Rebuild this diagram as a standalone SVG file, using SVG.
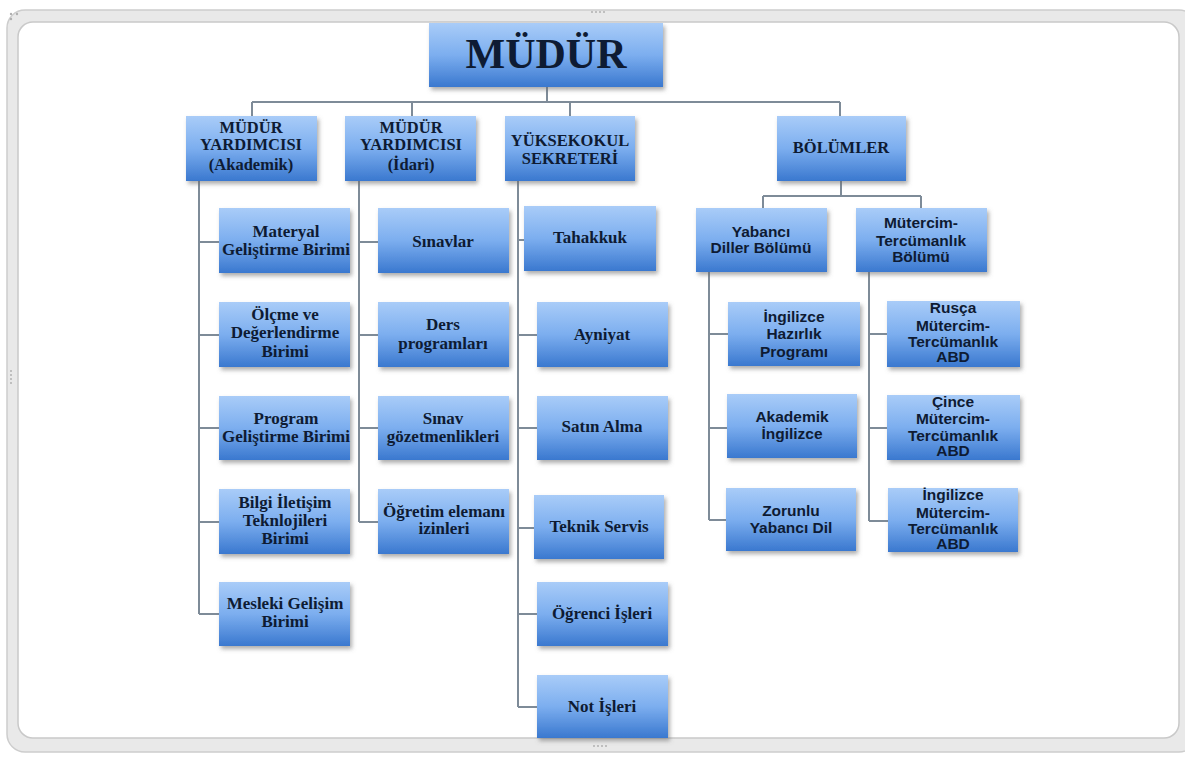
<svg xmlns="http://www.w3.org/2000/svg" width="1185" height="757" viewBox="0 0 1185 757">
<defs>
<linearGradient id="g" x1="0" y1="0" x2="0" y2="1">
<stop offset="0" stop-color="#a9ccf8"/>
<stop offset="0.5" stop-color="#7caeef"/>
<stop offset="1" stop-color="#3a78cf"/>
</linearGradient>
<filter id="sh" x="-10%" y="-10%" width="125%" height="130%">
<feDropShadow dx="2" dy="3" stdDeviation="2" flood-color="#6b6b6b" flood-opacity="0.55"/>
</filter>
<style>
.box{fill:url(#g);filter:url(#sh)}
.s{font-family:"Liberation Serif","DejaVu Serif",serif;font-weight:bold;fill:#0e1b33;text-anchor:middle;font-size:17px}
.h{font-family:"Liberation Serif","DejaVu Serif",serif;font-weight:bold;fill:#0e1b33;text-anchor:middle;font-size:16.5px}
.a{font-family:"Liberation Sans",Arial,sans-serif;font-weight:bold;fill:#0e1b33;text-anchor:middle;font-size:15.5px}
.big{font-family:"Liberation Serif","DejaVu Serif",serif;font-weight:bold;fill:#0e1b33;text-anchor:middle;font-size:42px}
.c{fill:none;stroke:#7e8b98;stroke-width:2}
.dot{fill:#b0b0b0}
</style>
</defs>
<g id="frame">
<rect x="7" y="10" width="1190" height="742" rx="18" fill="#e9e9e9" stroke="#cdcdcd" stroke-width="1.5"/>
<rect x="18" y="22" width="1161" height="716" rx="15" fill="#ffffff" stroke="#c9c9c9" stroke-width="1.5"/>
<circle class="dot" cx="11" cy="14" r="1.2"/><circle class="dot" cx="17" cy="14" r="1.2"/><circle class="dot" cx="11" cy="19" r="1.2"/>
<circle class="dot" cx="592" cy="12" r="1"/><circle class="dot" cx="596" cy="12" r="1"/><circle class="dot" cx="600" cy="12" r="1"/><circle class="dot" cx="604" cy="12" r="1"/>
<circle class="dot" cx="594" cy="746" r="1"/><circle class="dot" cx="598" cy="746" r="1"/><circle class="dot" cx="602" cy="746" r="1"/><circle class="dot" cx="606" cy="746" r="1"/>
<circle class="dot" cx="11" cy="371" r="1"/><circle class="dot" cx="11" cy="375" r="1"/><circle class="dot" cx="11" cy="379" r="1"/><circle class="dot" cx="11" cy="383" r="1"/>
</g>
<g id="connectors">
<path class="c" d="M547 87V102M252 102H840M252 102V116M412 102V116M570 102V116M840 102V116"/>
<path class="c" d="M199 181V614M199 242H219M199 335H219M199 428H219M199 522H219M199 614H219"/>
<path class="c" d="M359 181V522M359 242H378M359 335H378M359 428H378M359 522H378"/>
<path class="c" d="M518 181V707M518 240H524M518 335H537M518 428H537M518 528H534M518 614H537M518 707H537"/>
<path class="c" d="M841 181V196M763 196H921M763 196V208M921 196V208"/>
<path class="c" d="M709 272V520M709 334H728M709 428H727M709 520H726"/>
<path class="c" d="M869 272V521M869 334H887M869 428H887M869 521H888"/>
</g>
<g id="mudur"><rect class="box" x="429" y="23" width="234" height="64"/><text class="big" x="546" y="68">MÜDÜR</text></g>
<g id="akademik"><rect class="box" x="186" y="116" width="131" height="65"/><text class="h" x="251" y="133">MÜDÜR</text><text class="h" x="251" y="150">YARDIMCISI</text><text class="h" x="251" y="170">(Akademik)</text></g>
<g id="idari"><rect class="box" x="345" y="116" width="131" height="65"/><text class="h" x="411" y="133">MÜDÜR</text><text class="h" x="411" y="150">YARDIMCISI</text><text class="h" x="411" y="170">(İdari)</text></g>
<g id="yuksekokul"><rect class="box" x="505" y="116" width="130" height="65"/><text class="h" x="570" y="146">YÜKSEKOKUL</text><text class="h" x="570" y="164">SEKRETERİ</text></g>
<g id="bolumler"><rect class="box" x="777" y="116" width="129" height="65"/><text class="h" x="841" y="153">BÖLÜMLER</text></g>
<g id="materyal"><rect class="box" x="219" y="208" width="131" height="65"/><text class="s" x="286" y="237">Materyal</text><text class="s" x="286" y="255">Geliştirme Birimi</text></g>
<g id="olcme"><rect class="box" x="219" y="302" width="131" height="65"/><text class="s" x="285" y="320">Ölçme ve</text><text class="s" x="285" y="338">Değerlendirme</text><text class="s" x="285" y="357">Birimi</text></g>
<g id="program"><rect class="box" x="219" y="396" width="131" height="64"/><text class="s" x="286" y="424">Program</text><text class="s" x="286" y="442">Geliştirme Birimi</text></g>
<g id="bilgi"><rect class="box" x="219" y="489" width="131" height="65"/><text class="s" x="285" y="508">Bilgi İletişim</text><text class="s" x="285" y="526">Teknlojileri</text><text class="s" x="285" y="544">Birimi</text></g>
<g id="mesleki"><rect class="box" x="219" y="582" width="131" height="64"/><text class="s" x="285" y="609">Mesleki Gelişim</text><text class="s" x="285" y="627">Birimi</text></g>
<g id="sinavlar"><rect class="box" x="378" y="208" width="131" height="65"/><text class="s" x="443" y="247">Sınavlar</text></g>
<g id="ders"><rect class="box" x="378" y="302" width="131" height="65"/><text class="s" x="443" y="330">Ders</text><text class="s" x="443" y="349">programları</text></g>
<g id="gozetmen"><rect class="box" x="378" y="396" width="131" height="64"/><text class="s" x="443" y="424">Sınav</text><text class="s" x="443" y="442">gözetmenlikleri</text></g>
<g id="ogretim"><rect class="box" x="378" y="489" width="131" height="65"/><text class="s" x="444" y="517">Öğretim elemanı</text><text class="s" x="444" y="534">izinleri</text></g>
<g id="tahakkuk"><rect class="box" x="524" y="206" width="132" height="65"/><text class="s" x="590" y="243">Tahakkuk</text></g>
<g id="ayniyat"><rect class="box" x="537" y="302" width="131" height="65"/><text class="s" x="602" y="340">Ayniyat</text></g>
<g id="satinalma"><rect class="box" x="537" y="396" width="131" height="64"/><text class="s" x="602" y="432">Satın Alma</text></g>
<g id="teknik"><rect class="box" x="534" y="495" width="130" height="64"/><text class="s" x="599" y="532">Teknik Servis</text></g>
<g id="ogrenci"><rect class="box" x="537" y="582" width="131" height="64"/><text class="s" x="602" y="619">Öğrenci İşleri</text></g>
<g id="notisleri"><rect class="box" x="537" y="675" width="131" height="63"/><text class="s" x="602" y="712">Not İşleri</text></g>
<g id="yabanci"><rect class="box" x="696" y="208" width="131" height="64"/><text class="a" x="761" y="237">Yabancı</text><text class="a" x="761" y="253">Diller Bölümü</text></g>
<g id="mutercim"><rect class="box" x="856" y="208" width="131" height="64"/><text class="a" x="921" y="228">Mütercim-</text><text class="a" x="921" y="246">Tercümanlık</text><text class="a" x="921" y="262">Bölümü</text></g>
<g id="ingilizcehazirlik"><rect class="box" x="728" y="302" width="132" height="64"/><text class="a" x="794" y="322">İngilizce</text><text class="a" x="794" y="339">Hazırlık</text><text class="a" x="794" y="357">Programı</text></g>
<g id="akademikingilizce"><rect class="box" x="727" y="394" width="130" height="64"/><text class="a" x="792" y="422">Akademik</text><text class="a" x="792" y="439">İngilizce</text></g>
<g id="zorunlu"><rect class="box" x="726" y="488" width="130" height="63"/><text class="a" x="791" y="516">Zorunlu</text><text class="a" x="791" y="533">Yabancı Dil</text></g>
<g id="rusca"><rect class="box" x="887" y="301" width="133" height="66"/><text class="a" x="953" y="313">Rusça</text><text class="a" x="953" y="331">Mütercim-</text><text class="a" x="953" y="347">Tercümanlık</text><text class="a" x="953" y="362">ABD</text></g>
<g id="cince"><rect class="box" x="887" y="395" width="133" height="65"/><text class="a" x="953" y="407">Çince</text><text class="a" x="953" y="424">Mütercim-</text><text class="a" x="953" y="441">Tercümanlık</text><text class="a" x="953" y="456">ABD</text></g>
<g id="ingilizcemutercim"><rect class="box" x="888" y="488" width="130" height="64"/><text class="a" x="953" y="500">İngilizce</text><text class="a" x="953" y="518">Mütercim-</text><text class="a" x="953" y="534">Tercümanlık</text><text class="a" x="953" y="549">ABD</text></g>
</svg>
